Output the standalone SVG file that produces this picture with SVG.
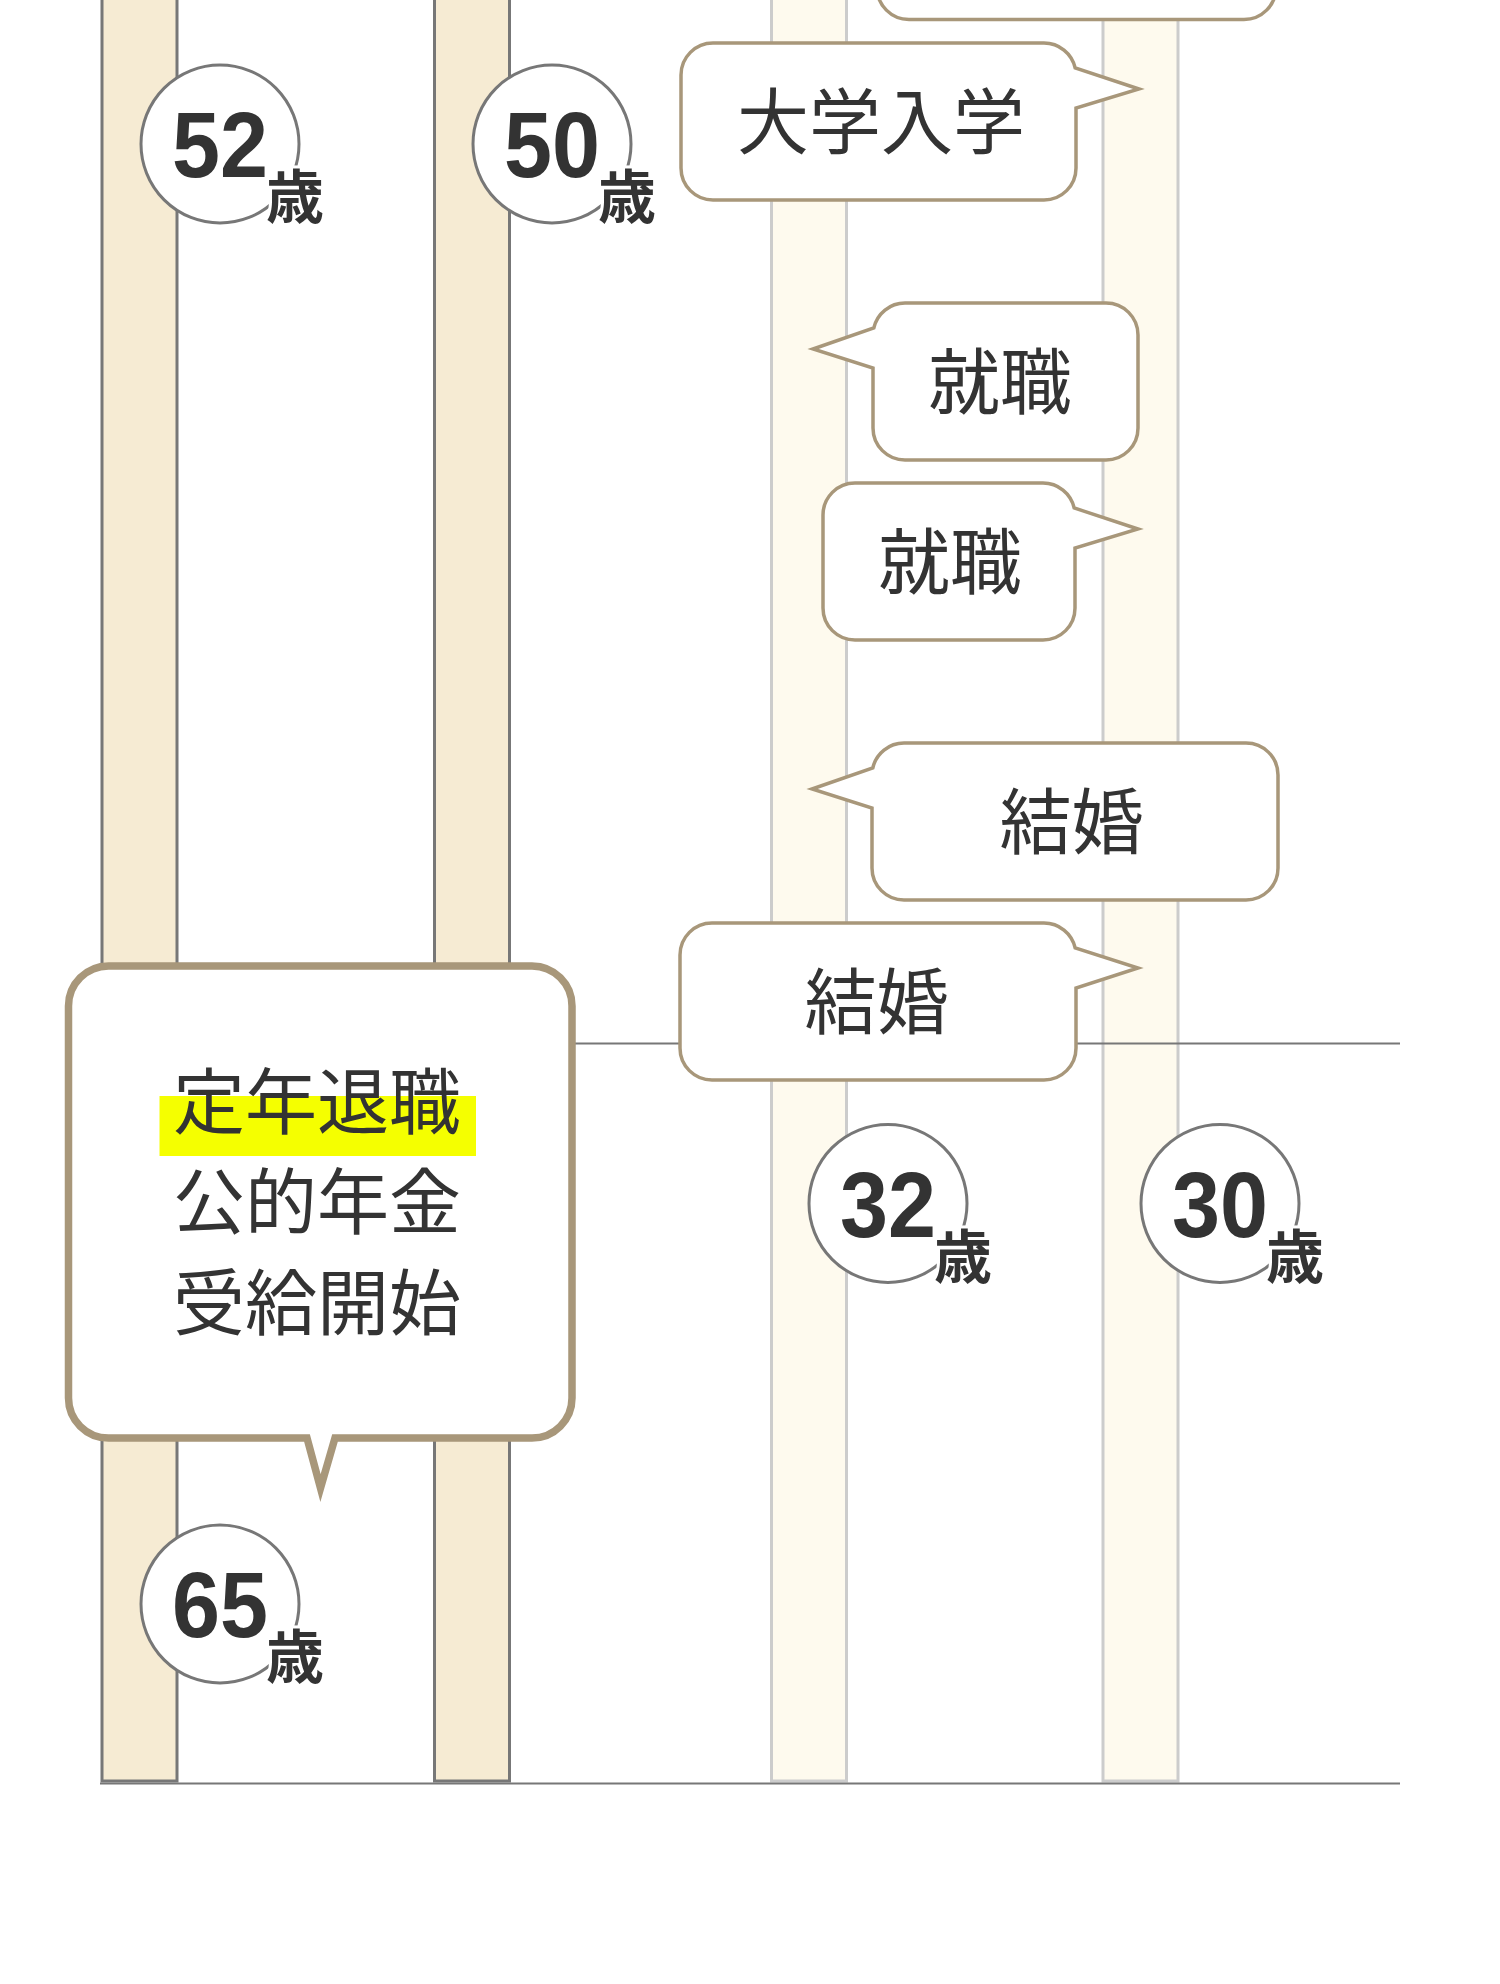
<svg xmlns="http://www.w3.org/2000/svg" width="1500" height="1984" viewBox="0 0 1500 1984">
<style>
.bar-a{fill:#f6ebd3;stroke:#777;stroke-width:3}
.bar-b{fill:#fefaee;stroke:#cccccc;stroke-width:3}
.axis{stroke:#777;stroke-width:2;fill:none}
.bub{fill:#fff;stroke:#a8977a;stroke-width:3.5;stroke-linejoin:miter}
.big{fill:#fff;stroke:#a8977a;stroke-width:7.5;stroke-linejoin:miter}
.lbl{font-family:"Noto Sans CJK JP","Noto Sans",sans-serif;font-size:72px;fill:#333;text-anchor:middle}
.age-c{fill:#fff;stroke:#777;stroke-width:3}
.age-n{font-family:"Liberation Sans",Arial,sans-serif;font-weight:700;font-size:93px;fill:#333;text-anchor:middle}
.age-u{font-family:"Noto Sans CJK JP","Noto Sans",sans-serif;font-weight:700;font-size:58px;fill:#333;stroke:#fff;stroke-width:6;paint-order:stroke;stroke-linejoin:round}
</style>
<rect width="1500" height="1984" fill="#fff"/>
<g id="lanes">
<rect class="bar-a" x="102" y="-10" width="75" height="1791"/>
<rect class="bar-a" x="434.5" y="-10" width="75" height="1791"/>
<rect class="bar-b" x="771.5" y="-10" width="75" height="1791"/>
<rect class="bar-b" x="1103" y="-10" width="75" height="1791"/>
</g>
<g id="connectors">
<line class="axis" x1="100" y1="1043.5" x2="1400" y2="1043.5"/>
<line class="axis" x1="100" y1="1783.5" x2="1400" y2="1783.5"/>
</g>
<g id="bubble-top">
<rect class="bub" x="877" y="-140" width="399" height="159.5" rx="32"/>
</g>
<g id="bubble-daigaku">
<path class="bub" d="M713,43 H1044 A32,32 0 0 1 1075.2,68 L1139,89 L1076,108 V168 A32,32 0 0 1 1044,200 H713 A32,32 0 0 1 681,168 V75 A32,32 0 0 1 713,43 Z"/>
<text class="lbl" x="881" y="148">大学入学</text>
</g>
<g id="bubble-shushoku-1">
<path class="bub" d="M905,303 H1106 A32,32 0 0 1 1138,335 V428 A32,32 0 0 1 1106,460 H905 A32,32 0 0 1 873,428 V368 L813,349 L873.8,328 A32,32 0 0 1 905,303 Z"/>
<text class="lbl" x="1000" y="408">就職</text>
</g>
<g id="bubble-shushoku-2">
<path class="bub" d="M855,483 H1043 A32,32 0 0 1 1074.2,508 L1138,529 L1075,548 V608 A32,32 0 0 1 1043,640 H855 A32,32 0 0 1 823,608 V515 A32,32 0 0 1 855,483 Z"/>
<text class="lbl" x="950" y="588">就職</text>
</g>
<g id="bubble-kekkon-1">
<path class="bub" d="M904,743 H1246 A32,32 0 0 1 1278,775 V868 A32,32 0 0 1 1246,900 H904 A32,32 0 0 1 872,868 V808 L812,789 L872.8,768 A32,32 0 0 1 904,743 Z"/>
<text class="lbl" x="1071.5" y="848">結婚</text>
</g>
<g id="bubble-kekkon-2">
<path class="bub" d="M712,923 H1044 A32,32 0 0 1 1075.2,948 L1138,968 L1076,988 V1048 A32,32 0 0 1 1044,1080 H712 A32,32 0 0 1 680,1048 V955 A32,32 0 0 1 712,923 Z"/>
<text class="lbl" x="876.5" y="1028">結婚</text>
</g>
<g id="bubble-teinen">
<path class="big" d="M108.5,966 H532 A40,40 0 0 1 572,1006 V1398 A40,40 0 0 1 532,1438 H335 L320.5,1488 L307,1438 H108.5 A40,40 0 0 1 68.5,1398 V1006 A40,40 0 0 1 108.5,966 Z"/>
<rect x="159.5" y="1096" width="316.5" height="60" fill="#f5ff00"/>
<text class="lbl" x="317" y="1128">定年退職</text>
<text class="lbl" x="317" y="1228">公的年金</text>
<text class="lbl" x="317" y="1328.5">受給開始</text>
</g>
<g id="age-52">
<circle class="age-c" cx="220" cy="144" r="79"/>
<text class="age-n" x="220" y="177" textLength="96" lengthAdjust="spacingAndGlyphs">52</text>
<text class="age-u" x="266" y="218">歳</text>
</g>
<g id="age-50">
<circle class="age-c" cx="552" cy="144" r="79"/>
<text class="age-n" x="552" y="177" textLength="96" lengthAdjust="spacingAndGlyphs">50</text>
<text class="age-u" x="598" y="218">歳</text>
</g>
<g id="age-32">
<circle class="age-c" cx="888" cy="1203.5" r="79"/>
<text class="age-n" x="888" y="1236.5" textLength="96" lengthAdjust="spacingAndGlyphs">32</text>
<text class="age-u" x="934" y="1277.5">歳</text>
</g>
<g id="age-30">
<circle class="age-c" cx="1220" cy="1203.5" r="79"/>
<text class="age-n" x="1220" y="1236.5" textLength="96" lengthAdjust="spacingAndGlyphs">30</text>
<text class="age-u" x="1266" y="1277.5">歳</text>
</g>
<g id="age-65">
<circle class="age-c" cx="220" cy="1604" r="79"/>
<text class="age-n" x="220" y="1637" textLength="96" lengthAdjust="spacingAndGlyphs">65</text>
<text class="age-u" x="266" y="1678">歳</text>
</g>
</svg>
